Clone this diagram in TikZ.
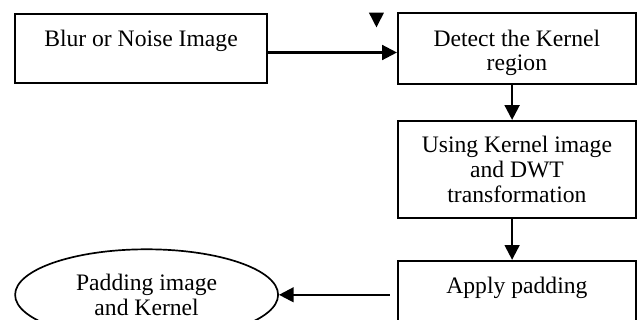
\documentclass[tikz,border=0pt]{standalone}
\usepackage{fontspec}
\setmainfont{Liberation Serif}
\usetikzlibrary{positioning, arrows.meta, shapes.geometric}

\begin{document}
\begin{tikzpicture}[
    node distance=1cm and 3cm,
    box/.style={draw, rectangle, line width=1.35pt, minimum width=5.95cm,
                minimum height=1.775cm, align=center, inner sep=2pt,
                font=\fontsize{16.8pt}{17.5pt}\selectfont},
    single/.style={box, text height=11.5pt, text depth=13.8pt},
    oval/.style={draw, ellipse, line width=1.2pt, minimum width=6.575cm,
                minimum height=2.275cm, inner sep=0pt, align=center,
                font=\fontsize{16.8pt}{18pt}\selectfont},
    arrow/.style={-{Triangle[length=10.5pt, width=10.5pt]}, line width=1.6pt}
]
% Page frame
\useasboundingbox (0,0) rectangle (16,-8);
\clip (0,0) rectangle (16,-8);
% Top row
\node[single, minimum width=6.3cm, minimum height=1.725cm] (blur)
      at (3.525,-1.2125) {Blur or Noise Image};
\node[box, right=3.225cm of blur] (detect)
      {\rule{0pt}{18pt}Detect the Kernel\\region};
% Right column
\node[box, below=0.875cm of detect, minimum height=2.425cm] (dwt)
      {Using Kernel image\\and DWT\\transformation};
\node[single, below=1.025cm of dwt, minimum height=1.7cm] (pad)
      {Apply padding};
% Bottom left
\node[oval, left=2.95cm of pad] (kern) {Padding image\\and Kernel};
% Stray arrow head
\coordinate (tip) at ([xshift=-0.5125cm, yshift=-0.3825cm]detect.north west);
\fill (tip) -- ++(-0.1875,0.365) -- ++(0.375,0) -- cycle;
% Connectors
\draw[arrow] ([yshift=-0.1cm]blur.east) -- ([yshift=-0.1cm]blur.east -| detect.west);
\draw[arrow] ([xshift=-0.12cm]detect.south) -- ([xshift=-0.12cm]dwt.north);
\draw[arrow] ([xshift=-0.12cm]dwt.south) -- ([xshift=-0.12cm]pad.north);
\draw[arrow, shorten <=0.175cm] (pad) -- (kern);
\end{tikzpicture}
\end{document}
